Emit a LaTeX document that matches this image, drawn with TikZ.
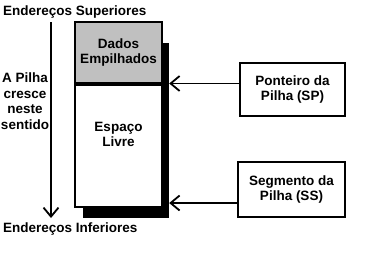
\documentclass[tikz,border=0pt]{standalone}
\usepackage{fontspec}
\setmainfont{Liberation Sans}
\usetikzlibrary{positioning, arrows.meta}

\begin{document}
\begin{tikzpicture}[
    x=1pt, y=-1pt,
    txt/.style={font=\fontsize{13.5}{15.5}\selectfont\bfseries, align=center, inner sep=0pt},
    seg/.style={rectangle, draw, line width=2pt, minimum width=87pt, txt},
    reg/.style={rectangle, draw, line width=2pt, txt},
    arr/.style={-{Straight Barb[length=9pt, width=15pt]}, line width=1.8pt},
]
\useasboundingbox (0,0) rectangle (369,265);

% Shadow behind the stack
\node[rectangle, fill=black, minimum width=86pt, minimum height=175pt, inner sep=0pt] (shadow) at (126,130.5) {};

% Stack segment
\node[seg, fill={rgb,255:red,192;green,192;blue,192}, minimum height=61pt] (dados) at (118.5,52.5) {Dados\\Empilhados};
\node[seg, fill=white, minimum height=122pt, below=0pt of dados] (livre) {Espaço\\Livre\\[8pt]};

% Addresses and growth direction
\node[txt, anchor=base west] (sup) at (3,15) {Endereços Superiores};
\node[txt, anchor=base west] (inf) at (3,232) {Endereços Inferiores};
\node[txt] (cresce) at (25,101) {A Pilha\\cresce\\neste\\sentido};
\coordinate (topo) at (51,22);
\coordinate (base) at (51,218);
\draw[arr] (topo) -- (base);

% Registers
\node[reg, minimum width=105pt, minimum height=53pt] (sp) at (292.5,89.5) {Ponteiro da\\Pilha (SP)};
\node[reg, minimum width=107pt, minimum height=55pt] (ss) at (291.5,189.5) {Segmento da\\Pilha (SS)};

% Arrows
\draw[arr] ([yshift=6pt]sp.west) -- ([yshift=6pt]sp.west -| shadow.east);
\draw[arr] ([yshift=-13.5pt]ss.west) -- ([yshift=-13.5pt]ss.west -| shadow.east);

\end{tikzpicture}
\end{document}
